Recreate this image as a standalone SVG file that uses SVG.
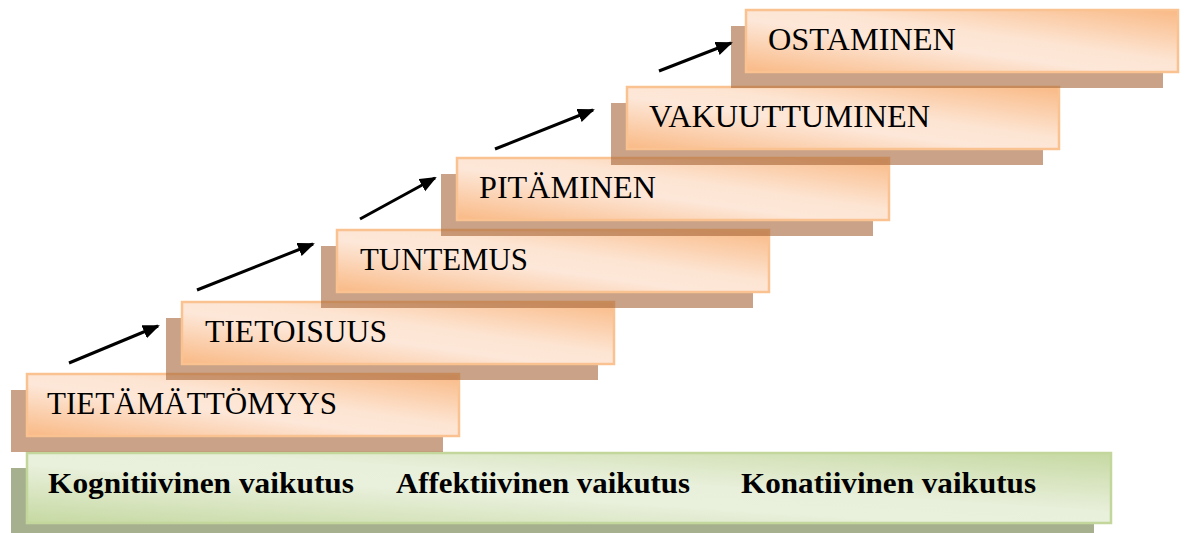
<svg xmlns="http://www.w3.org/2000/svg" width="1187" height="533" viewBox="0 0 1187 533">
<defs>
<linearGradient id="og" x1="1" y1="0" x2="0" y2="1">
<stop offset="0" stop-color="#f9b985"/>
<stop offset="0.42" stop-color="#fde5d3"/>
<stop offset="0.58" stop-color="#fde7d8"/>
<stop offset="1" stop-color="#f9b985"/>
</linearGradient>
<linearGradient id="gg" x1="1" y1="0" x2="0" y2="1">
<stop offset="0" stop-color="#c6d9a2"/>
<stop offset="0.42" stop-color="#e8efda"/>
<stop offset="0.58" stop-color="#e9f0dc"/>
<stop offset="1" stop-color="#c6d9a2"/>
</linearGradient>
<marker id="ah" markerUnits="userSpaceOnUse" markerWidth="18" markerHeight="16" refX="15" refY="7" orient="auto">
<path d="M0,0 L17,7 L0,14 z" fill="#000"/>
</marker>
</defs>
<style>
.sh{fill:rgb(165,100,55);fill-opacity:0.6}
.bx{fill:url(#og);stroke:#fac291;stroke-width:2.5}
.gsh{fill:#a6b08f}
.gbx{fill:url(#gg);stroke:#c3d69b;stroke-width:2.5}
.st{font-size:31px;fill:#000}
.gt{font-size:29px;font-weight:bold;fill:#000}
.ar{stroke:#000;stroke-width:3;fill:none;marker-end:url(#ah)}
</style>
<g id="effects" font-family="'Liberation Serif', 'DejaVu Serif', serif">
<rect class="gsh" x="11" y="468" width="1083" height="71"/>
<rect class="gbx" x="27" y="453" width="1084" height="70"/>
<text class="gt" x="48" y="493" textLength="306" lengthAdjust="spacingAndGlyphs">Kognitiivinen vaikutus</text>
<text class="gt" x="396" y="493" textLength="294" lengthAdjust="spacingAndGlyphs">Affektiivinen vaikutus</text>
<text class="gt" x="741" y="493" textLength="295" lengthAdjust="spacingAndGlyphs">Konatiivinen vaikutus</text>
</g>
<g id="step1" font-family="'Liberation Serif', 'DejaVu Serif', serif">
<rect class="sh" x="11" y="390" width="432" height="62"/>
<rect class="bx" x="27" y="374" width="432" height="62"/>
<text class="st" x="47" y="414" textLength="290" lengthAdjust="spacingAndGlyphs">TIETÄMÄTTÖMYYS</text>
</g>
<g id="step2" font-family="'Liberation Serif', 'DejaVu Serif', serif">
<rect class="sh" x="166" y="318" width="432" height="62"/>
<rect class="bx" x="182" y="302" width="432" height="62"/>
<text class="st" x="205" y="342" textLength="182" lengthAdjust="spacingAndGlyphs">TIETOISUUS</text>
</g>
<g id="step3" font-family="'Liberation Serif', 'DejaVu Serif', serif">
<rect class="sh" x="321" y="246" width="432" height="62"/>
<rect class="bx" x="337" y="230" width="432" height="62"/>
<text class="st" x="360" y="270" textLength="168" lengthAdjust="spacingAndGlyphs">TUNTEMUS</text>
</g>
<g id="step4" font-family="'Liberation Serif', 'DejaVu Serif', serif">
<rect class="sh" x="441" y="174" width="432" height="62"/>
<rect class="bx" x="457" y="158" width="432" height="62"/>
<text class="st" x="479" y="198" textLength="177" lengthAdjust="spacingAndGlyphs">PITÄMINEN</text>
</g>
<g id="step5" font-family="'Liberation Serif', 'DejaVu Serif', serif">
<rect class="sh" x="611" y="103" width="432" height="62"/>
<rect class="bx" x="627" y="87" width="432" height="62"/>
<text class="st" x="649" y="127" textLength="281" lengthAdjust="spacingAndGlyphs">VAKUUTTUMINEN</text>
</g>
<g id="step6" font-family="'Liberation Serif', 'DejaVu Serif', serif">
<rect class="sh" x="731" y="26" width="432" height="62"/>
<rect class="bx" x="746" y="10" width="432" height="62"/>
<text class="st" x="768" y="50" textLength="188" lengthAdjust="spacingAndGlyphs">OSTAMINEN</text>
</g>
<g id="connectors">
<line class="ar" x1="69" y1="363" x2="158" y2="326"/>
<line class="ar" x1="197" y1="290" x2="313" y2="244"/>
<line class="ar" x1="360" y1="219" x2="435" y2="178"/>
<line class="ar" x1="495" y1="149" x2="593" y2="110"/>
<line class="ar" x1="659" y1="71" x2="731" y2="43"/>
</g>
</svg>
